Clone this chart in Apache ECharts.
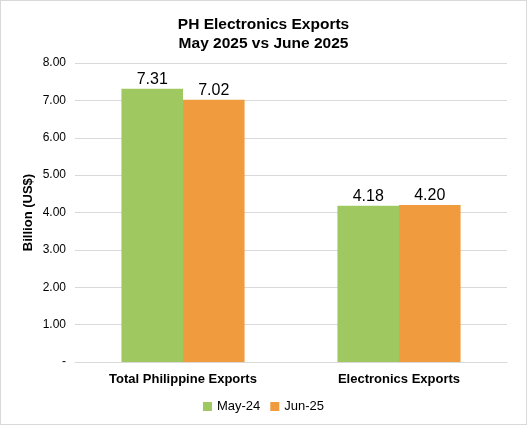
<!DOCTYPE html>
<html><head><meta charset="utf-8">
<script src="https://cdn.jsdelivr.net/npm/echarts@6/dist/echarts.min.js"></script>
<style>html,body{margin:0;padding:0;background:#fff}#c{width:525px;height:423px;border:1px solid #d9d9d9}</style>
</head><body><div id="c"></div>
<script>
const categories = ["Total Philippine Exports", "Electronics Exports"];
const may24 = [7.31, 4.18];
const jun25 = [7.02, 4.20];
const seriesNames = ["May-24", "Jun-25"];

const chart = echarts.init(document.getElementById('c'));
const lbl = {show:true, position:'top', color:'#000', fontSize:16, fontFamily:'Liberation Sans, Arial', formatter:p=>p.value.toFixed(2), distance:1};
chart.setOption({
  animation:false,
  title:{text:'PH Electronics Exports\nMay 2025 vs June 2025', left:'center', top:9,
    textStyle:{fontSize:15.5, fontWeight:'bold', color:'#000', fontFamily:'Liberation Sans, Arial', lineHeight:19}},
  legend:{bottom:6, left:'center', itemWidth:9, itemHeight:9, itemGap:10, icon:'rect',
    textStyle:{fontSize:13, color:'#000', fontFamily:'Liberation Sans, Arial'}, data:seriesNames},
  grid:{left:74, right:19, top:62, bottom:62},
  xAxis:{type:'category', data:categories, axisTick:{show:false},
    axisLine:{lineStyle:{color:'#d9d9d9'}},
    axisLabel:{fontSize:13, fontWeight:'bold', color:'#000', fontFamily:'Liberation Sans, Arial', margin:11}},
  yAxis:{type:'value', min:0, max:8, interval:1, name:'Billion (US$)', nameLocation:'middle', nameGap:40, nameRotate:90,
    nameMoveOverlap:false,
    nameTextStyle:{fontSize:13, fontWeight:'bold', color:'#000', fontFamily:'Liberation Sans, Arial'},
    axisLabel:{fontSize:12, color:'#000', fontFamily:'Liberation Sans, Arial', margin:9, formatter:v=>v===0?'-':v.toFixed(2)},
    splitLine:{lineStyle:{color:'#d9d9d9'}}},
  series:[
    {name:seriesNames[0], type:'bar', data:may24, barGap:'0%', barCategoryGap:'43%', itemStyle:{color:'#9FC960'}, label:lbl},
    {name:seriesNames[1], type:'bar', data:jun25, itemStyle:{color:'#F09B3D'}, label:lbl}
  ]
});
</script></body></html>
